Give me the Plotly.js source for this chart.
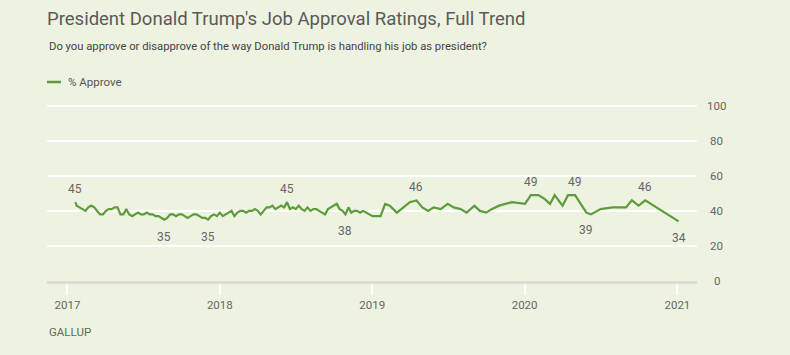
<!DOCTYPE html>
<html>
<head>
<meta charset="utf-8">
<script src="https://cdn.plot.ly/plotly-3.0.1.min.js"></script>
<style>
  html, body { margin: 0; padding: 0; background: #edf3e0; }
  #chart { width: 790px; height: 355px; }
</style>
</head>
<body>
<div id="chart"></div>
<script>
// ---- Data ----
const pollDates = [
  "2017-01-20","2017-01-23","2017-01-30","2017-02-06","2017-02-13","2017-02-20","2017-02-27",
  "2017-03-06","2017-03-13","2017-03-20","2017-03-27","2017-04-03","2017-04-10","2017-04-17",
  "2017-04-24","2017-05-01","2017-05-08","2017-05-15","2017-05-22","2017-05-29","2017-06-05",
  "2017-06-12","2017-06-19","2017-06-26","2017-07-03","2017-07-10","2017-07-17","2017-07-24",
  "2017-07-31","2017-08-07","2017-08-14","2017-08-21","2017-08-28","2017-09-04","2017-09-11",
  "2017-09-18","2017-09-25","2017-10-02","2017-10-09","2017-10-16","2017-10-23","2017-10-30",
  "2017-11-06","2017-11-13","2017-11-20","2017-11-27","2017-12-04","2017-12-11","2017-12-18",
  "2017-12-25",
  "2018-01-01","2018-01-08","2018-01-15","2018-01-22","2018-01-29","2018-02-05","2018-02-12",
  "2018-02-19","2018-02-26","2018-03-05","2018-03-12","2018-03-19","2018-03-26","2018-04-02",
  "2018-04-09","2018-04-16","2018-04-23","2018-04-30","2018-05-07","2018-05-14","2018-05-21",
  "2018-05-28","2018-06-04","2018-06-11","2018-06-18","2018-06-25","2018-07-02","2018-07-09",
  "2018-07-16","2018-07-23","2018-07-30","2018-08-06","2018-08-13","2018-08-20","2018-08-27",
  "2018-09-03","2018-09-10","2018-09-17","2018-09-24","2018-10-01","2018-10-08","2018-10-15",
  "2018-10-22","2018-10-29","2018-11-05","2018-11-12","2018-11-19","2018-11-26","2018-12-03",
  "2018-12-10","2018-12-17",
  "2019-01-02","2019-01-21","2019-02-01","2019-02-12","2019-03-01","2019-04-01","2019-04-17",
  "2019-05-01","2019-05-15","2019-05-28","2019-06-14","2019-07-01","2019-07-15","2019-08-01",
  "2019-08-15","2019-09-03","2019-09-16","2019-10-01","2019-10-14","2019-11-01","2019-12-02",
  "2020-01-02","2020-01-16","2020-02-03","2020-02-17","2020-03-02","2020-03-13","2020-04-01",
  "2020-04-14","2020-05-01","2020-05-28","2020-06-08","2020-07-01","2020-07-30","2020-08-17",
  "2020-08-31","2020-09-14","2020-09-30","2020-10-16",
  "2021-01-04"
];
const approve = [
  45,43,42,41,40,42,43,
  42,40,38,38,40,41,41,
  42,42,38,38,41,38,37,
  38,39,38,38,39,38,38,
  37,37,36,35,36,38,38,
  37,38,38,37,36,37,38,
  38,37,36,36,35,37,38,
  37,
  39,37,38,39,40,37,39,
  40,40,39,40,40,41,40,
  38,40,42,42,43,41,42,
  43,42,45,41,42,41,43,
  41,40,42,40,41,41,40,
  39,38,41,42,43,44,41,
  40,38,42,39,40,40,39,
  40,39,
  37,37,44,43,39,45,46,
  42,40,42,41,44,42,41,
  39,43,40,39,41,43,45,
  44,49,49,47,44,49,43,
  49,49,39,38,41,42,42,
  42,46,43,46,
  34
];
// Values printed on the chart
const labelDates  = ["2017-01-20","2017-08-21","2017-12-04","2018-06-11","2018-10-29","2019-04-17",
                     "2020-01-16","2020-05-01","2020-05-28","2020-10-16","2021-01-04"];
const labelValues = [45,35,35,45,38,46,49,49,39,46,34];
const labelSide   = ["above","below","below","above","below","above","above","above","below","above","below"];

const yearTicks  = ["2017-01-01","2018-01-01","2019-01-01","2020-01-01","2021-01-01"];
const yearLabels = ["2017","2018","2019","2020","2021"];
const yTicks = [0,20,40,60,80,100];

const titleText = "President Donald Trump's Job Approval Ratings, Full Trend";
const subtitleText = "Do you approve or disapprove of the way Donald Trump is handling his job as president?";
const seriesName = "% Approve";
const sourceText = "GALLUP";

// ---- Styling ----
const BG = "#edf3e0";
const GREEN = "#5c9c3b";
const FONT = "Roboto, 'Open Sans', sans-serif";
const W = 790, H = 355;
const M = {l: 47, r: 93, t: 104, b: 74};
const plotW = W - M.l - M.r, plotH = H - M.t - M.b;
const pxX = px => (px - M.l) / plotW;          // page px -> paper x
const pxY = py => (H - M.b - py) / plotH;       // page px -> paper y

const traces = [
  {
    type: "scatter", mode: "lines",
    x: pollDates, y: approve, name: seriesName,
    line: {color: GREEN, width: 2.2},
    hoverinfo: "skip", showlegend: false
  }
];

const annotations = [
  {xref: "paper", yref: "paper", x: 0, y: pxY(47), xanchor: "left", yanchor: "middle",
   text: subtitleText, showarrow: false, font: {family: FONT, size: 11.25, color: "#444444"}},
  {xref: "paper", yref: "paper", x: pxX(66), y: pxY(82), xanchor: "left", yanchor: "middle",
   text: seriesName, showarrow: false, font: {family: FONT, size: 11.5, color: "#555555"}},
  {xref: "paper", yref: "paper", x: 0, y: pxY(332), xanchor: "left", yanchor: "middle",
   text: sourceText, showarrow: false, font: {family: FONT, size: 11.5, color: "#666666"}}
];
yTicks.forEach(v => annotations.push({
  xref: "paper", yref: "y", x: pxX(717), y: v, xanchor: "center", yanchor: "middle",
  text: String(v), showarrow: false, font: {family: FONT, size: 11.5, color: "#666666"}
}));
labelDates.forEach((d, i) => annotations.push({
  xref: "x", yref: "y", x: d, y: labelValues[i], xanchor: "center", yanchor: "middle",
  yshift: labelSide[i] === "above" ? 13 : -17,
  text: String(labelValues[i]), showarrow: false,
  font: {family: FONT, size: 12, color: "#666666"}
}));

const layout = {
  width: W, height: H,
  paper_bgcolor: BG, plot_bgcolor: BG,
  margin: M,
  showlegend: false,
  hovermode: false,
  title: {
    text: titleText, xref: "container", yref: "container",
    x: 47 / W, xanchor: "left", y: 1 - 19 / H, yanchor: "middle",
    font: {family: FONT, size: 18.5, color: "#5a5a5a"}
  },
  xaxis: {
    type: "date",
    range: ["2016-11-13", "2021-02-17"],
    tickvals: yearTicks, ticktext: yearLabels,
    showgrid: false, zeroline: false,
    showline: true, linecolor: "#dcded6", linewidth: 3,
    ticks: "outside", ticklen: 11, tickwidth: 2, tickcolor: "#ffffff",
    tickfont: {family: FONT, size: 11.5, color: "#666666"},
    fixedrange: true
  },
  yaxis: {
    range: [0, 101],
    tickvals: yTicks, showticklabels: false,
    showgrid: true, gridcolor: "#ffffff", gridwidth: 2,
    zeroline: false, showline: false,
    fixedrange: true
  },
  shapes: [
    {type: "line", xref: "paper", yref: "paper",
     x0: 0, x1: pxX(61), y0: pxY(82), y1: pxY(82),
     line: {color: GREEN, width: 2.5}}
  ],
  annotations: annotations
};

Plotly.newPlot("chart", traces, layout, {staticPlot: true, displayModeBar: false});
</script>
</body>
</html>
